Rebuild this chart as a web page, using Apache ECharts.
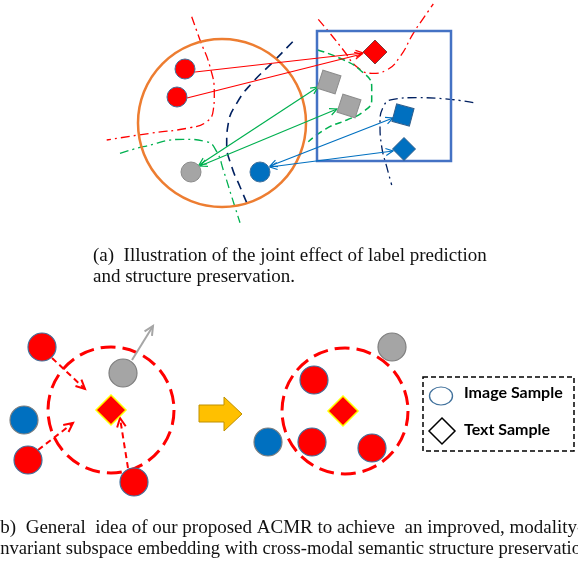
<!DOCTYPE html>
<html><head><meta charset="utf-8">
<script src="https://cdn.jsdelivr.net/npm/echarts@6/dist/echarts.min.js"></script>
<style>html,body{margin:0;padding:0;background:#fff}#c{width:578px;height:569px}</style>
</head><body><div id="c"></div>
<script>
// ---- diagram space (x: 0..578, y: 0..569 top-down) ----
const xExtent = [0, 578];
const yExtent = [0, 569];

// (a) joint effect panel
const orangeCircle = [[222, 123, 84]];
const blueBox = [[317, 31, 451, 161]];
const imgRedA = [[185, 69], [177, 97]];
const imgGrayA = [[191, 172]];
const imgBlueA = [[260, 172]];
const txtRedA = [[375, 52]];
const txtGrayA = [[329, 82], [349, 106]];
const txtBlueSqA = [[403, 115]];
const txtBlueDiaA = [[404, 149]];
const redArrowsA = [[195, 72, 363, 53], [187, 98, 362, 54]];
const greenArrowsA = [[199, 165, 318, 87], [200, 166, 337, 109]];
const blueArrowsA = [[270, 166, 393, 118], [270, 167, 393, 151]];
const curveRedL = [[191.7,16.7],[200,40],[210,66.7],[214.3,93.3],[213.3,110],[206.7,121.7],[190,127.7],[150,133.3],[106.7,140]];
const curveGreenL = [[120,153.3],[143.3,146.7],[183.3,139.3],[206.7,141.7],[216.7,151.7],[223.3,170],[231.7,196.7],[240,222.7]];
const curveNavyM = [[292.7,41.7],[273.3,61.7],[251.7,83.3],[236.7,103.3],[228.3,123.3],[226.7,143.3],[231.7,166.7],[240,186.7],[247.7,205]];
const curveRedR = [[318.3,19.3],[330,33.3],[343.3,50],[356.7,66.7],[371.7,73.3],[386.7,70],[400,56.7],[413.3,33.3],[423.3,18.3],[433.3,4]];
const curveGreenR = [[317.7,50],[340,58.3],[360,70],[371.7,86.7],[371.7,100],[363.3,111.7],[346.7,120],[326.7,128.3],[308.3,141.7]];
const curveNavyR = [[473.3,102.7],[450,99.3],[416.7,97.7],[393.3,99.3],[383.3,106.7],[380,123.3],[381.7,146.7],[386.7,166.7],[391.7,185]];

// (b) general idea panel
const dashedCircles = [[111, 410, 63], [345, 411, 63]];
const imgRedB = [[42, 347], [28, 460], [134, 482], [314, 380], [312, 442], [372, 448]];
const imgBlueB = [[24, 420], [268, 442]];
const imgGrayB = [[123, 373], [392, 347]];
const txtRedB = [[111, 410], [343, 411]];
const pullArrowsB = [[52, 358, 85, 389], [38, 450, 73, 423], [128, 468, 120, 418]];
const pushArrowsB = [[132, 360, 153, 326]];
const blockArrow = [[199,405],[224,405],[224,397],[242,414],[224,431],[224,422],[199,422]];
const legendBox = [[423, 377, 574, 451]];
const legendImage = [[441, 396]];
const legendText = [[442, 431]];
const legendLabels = ['Image Sample', 'Text Sample'];

const captionA = ['(a)  Illustration of the joint effect of label prediction', 'and structure preservation.'];
const captionB = ['(b)  General  idea of our proposed ACMR to achieve  an improved, modality-', 'invariant subspace embedding with cross-modal semantic structure preservation.'];

const RED = '#ff0000', GRAY = '#a5a5a5', BLUE = '#0070c0', EDGE = '#41719c';
const dashDot = [9, 4, 2, 4];

function curve(data, color, dash, w) {
  return { type: 'line', data, smooth: true, symbol: 'none', silent: true, z: 1,
    lineStyle: { color, width: w, type: dash } };
}
function pts(data, symbol, size, color, border, bw, rot, z) {
  return { type: 'scatter', data, symbol, symbolSize: size, symbolRotate: rot || 0, silent: true, z: z || 5,
    itemStyle: { color, borderColor: border, borderWidth: bw, opacity: 1 } };
}
function arrows(data, color, w, dash, both, hs, z) {
  return { type: 'custom', data, silent: true, z: z || 4, clip: false,
    renderItem(params, api) {
      const a = api.coord([api.value(0), api.value(1)]);
      const b = api.coord([api.value(2), api.value(3)]);
      const st = { stroke: color, lineWidth: w, fill: null };
      const head = (tip, from) => {
        const ang = Math.atan2(tip[1] - from[1], tip[0] - from[0]);
        const s = 0.45;
        return { type: 'polyline', shape: { points: [
          [tip[0] - hs * Math.cos(ang - s), tip[1] - hs * Math.sin(ang - s)], tip,
          [tip[0] - hs * Math.cos(ang + s), tip[1] - hs * Math.sin(ang + s)]] }, style: Object.assign({}, st) };
      };
      const ch = [{ type: 'line', shape: { x1: a[0], y1: a[1], x2: b[0], y2: b[1] },
        style: Object.assign({}, st, dash ? { lineDash: dash } : {}) }, head(b, a)];
      if (both) ch.push(head(a, b));
      return { type: 'group', children: ch };
    } };
}
function rings(data, color, w, dash, z) {
  return { type: 'custom', data, silent: true, z: z || 2, clip: false,
    renderItem(params, api) {
      const c = api.coord([api.value(0), api.value(1)]);
      const r = api.size([api.value(2), api.value(2)])[0];
      return { type: 'circle', shape: { cx: c[0], cy: c[1], r },
        style: Object.assign({ stroke: color, lineWidth: w, fill: null }, dash ? { lineDash: dash } : {}) };
    } };
}
function boxes(data, color, w, dash, z) {
  return { type: 'custom', data, silent: true, z: z || 2, clip: false,
    renderItem(params, api) {
      const p = api.coord([api.value(0), api.value(1)]);
      const q = api.coord([api.value(2), api.value(3)]);
      return { type: 'rect', shape: { x: p[0], y: p[1], width: q[0] - p[0], height: q[1] - p[1] },
        style: Object.assign({ stroke: color, lineWidth: w, fill: null }, dash ? { lineDash: dash } : {}) };
    } };
}
const polySeries = { type: 'custom', data: [blockArrow[0]], silent: true, z: 3, clip: false,
  renderItem(params, api) {
    return { type: 'polygon', shape: { points: blockArrow.map(p => api.coord(p)) },
      style: { fill: '#ffc000', stroke: '#bf9000', lineWidth: 1 } };
  } };

const serif = '19px "Liberation Serif", "DejaVu Serif", serif';
const serif2 = '18.6px "Liberation Serif", "DejaVu Serif", serif';
const sans = 'bold 16px Lato, "Open Sans", sans-serif';
const chart = echarts.init(document.getElementById('c'));
chart.setOption({
  animation: false,
  backgroundColor: '#fff',
  grid: { left: 0, right: 0, top: 0, bottom: 0 },
  xAxis: { type: 'value', min: xExtent[0], max: xExtent[1], show: false },
  yAxis: { type: 'value', min: yExtent[0], max: yExtent[1], inverse: true, show: false },
  series: [
    rings(orangeCircle, '#ed7d31', 2.5),
    boxes(blueBox, '#4472c4', 2.5),
    curve(curveRedL, RED, dashDot, 1.3),
    curve(curveGreenL, '#00b050', dashDot, 1.3),
    curve(curveNavyM, '#002060', [9, 6], 1.6),
    curve(curveRedR, RED, dashDot, 1.3),
    curve(curveGreenR, '#00b050', [7, 4], 1.5),
    curve(curveNavyR, '#002060', dashDot, 1.3),
    arrows(redArrowsA, RED, 1.2, null, false, 8),
    arrows(greenArrowsA, '#00b050', 1.2, null, true, 8),
    arrows(blueArrowsA, BLUE, 1.2, null, true, 8),
    pts(imgRedA, 'circle', 20, RED, EDGE, 1),
    pts(imgGrayA, 'circle', 20, GRAY, '#8c8c8c', 1),
    pts(imgBlueA, 'circle', 20, BLUE, EDGE, 1),
    pts(txtRedA, 'diamond', [24, 24], RED, '#7f3f3f', 1),
    pts(txtGrayA, 'rect', 19, GRAY, '#8c8c8c', 1, -18),
    pts(txtBlueSqA, 'rect', 18, BLUE, '#305d8a', 1, -15),
    pts(txtBlueDiaA, 'diamond', [23, 23], BLUE, '#305d8a', 1),

    rings(dashedCircles, RED, 3, [15, 7]),
    arrows(pullArrowsB, RED, 2, [6, 4], false, 10),
    arrows(pushArrowsB, '#a6a6a6', 2, null, false, 10),
    pts(imgRedB, 'circle', 28, RED, EDGE, 1.2),
    pts(imgBlueB, 'circle', 28, BLUE, '#7f7f7f', 1.2),
    pts(imgGrayB, 'circle', 28, GRAY, '#7f7f7f', 1.2),
    pts(txtRedB, 'diamond', [30, 30], RED, '#ffff00', 1.5),
    polySeries,
    boxes(legendBox, '#000', 1.5, [5, 3]),
    pts(legendImage, 'circle', [23, 18], '#fff', EDGE, 1.2),
    pts(legendText, 'diamond', [26, 26], '#fff', '#000', 1.5)
  ],
  graphic: [
    { type: 'text', x: 464, y: 393, style: { text: legendLabels[0], font: sans, fill: '#000', verticalAlign: 'middle' } },
    { type: 'text', x: 464, y: 430, style: { text: legendLabels[1], font: sans, fill: '#000', verticalAlign: 'middle' } },
    { type: 'text', x: 93, y: 256, style: { text: captionA[0], font: serif, fill: '#111', verticalAlign: 'middle' } },
    { type: 'text', x: 93, y: 277, style: { text: captionA[1], font: serif, fill: '#111', verticalAlign: 'middle' } },
    { type: 'text', x: -6, y: 528, style: { text: captionB[0], font: serif, fill: '#111', verticalAlign: 'middle' } },
    { type: 'text', x: -5, y: 549, style: { text: captionB[1], font: serif2, fill: '#111', verticalAlign: 'middle' } }
  ]
});
</script>
</body></html>
